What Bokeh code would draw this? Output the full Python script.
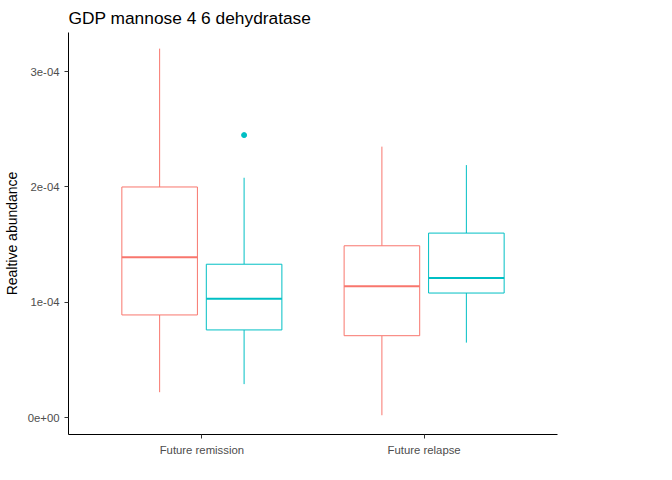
import numpy as np
from bokeh.plotting import figure
from bokeh.models import FixedTicker, Legend, LegendItem, Range1d
from bokeh.embed import file_html
from bokeh.resources import INLINE

# Data
groups = ['Future remission', 'Future relapse']
ages = ['Children', 'Adults']
colors = ['#F8766D', '#00BFC4']
lower = [[0.22e-4, 0.29e-4], [0.02e-4, 0.65e-4]]
q1 = [[0.89e-4, 0.76e-4], [0.71e-4, 1.08e-4]]
med = [[1.39e-4, 1.03e-4], [1.14e-4, 1.21e-4]]
q3 = [[2.00e-4, 1.33e-4], [1.49e-4, 1.60e-4]]
upper = [[3.20e-4, 2.08e-4], [2.35e-4, 2.19e-4]]
outlier_group = [0]
outlier_age = [1]
outlier_val = [2.45e-4]

p = figure(frame_width=489, frame_height=402, output_backend="svg", toolbar_location=None,
           title='GDP mannose 4 6 dehydratase', x_range=Range1d(0.4, 2.6),
           y_range=Range1d(-0.147e-4, 3.34e-4), min_border_left=60, min_border_top=10,
           min_border_bottom=30, min_border_right=107)

# Boxes
dodge = [-0.19, 0.19]
half = 0.17
items = []
for j in range(2):
	x = np.array([1, 2]) + dodge[j]
	lo = [lower[i][j] for i in range(2)]
	a = [q1[i][j] for i in range(2)]
	m = [med[i][j] for i in range(2)]
	b = [q3[i][j] for i in range(2)]
	hi = [upper[i][j] for i in range(2)]
	p.segment(x, b, x, hi, line_color=colors[j], line_width=1)
	p.segment(x, lo, x, a, line_color=colors[j], line_width=1)
	r = p.quad(left=x - half, right=x + half, bottom=a, top=b, fill_color='white',
	           line_color=colors[j], line_width=1)
	p.segment(x - half, m, x + half, m, line_color=colors[j], line_width=2)
	items.append(LegendItem(label=ages[j], renderers=[r]))

ox = [outlier_group[k] + 1 + dodge[outlier_age[k]] for k in range(len(outlier_val))]
p.scatter(ox, outlier_val, size=5, color=colors[1])

# Legend, placed beside the panel
legend = Legend(items=items, title='Age group', border_line_color=None,
                background_fill_alpha=0, location=(508, 150),
                label_text_font_size='9pt', title_text_font_size='10.5pt',
                title_text_color='black', label_text_color='black',
                glyph_width=17, glyph_height=17, margin=0, padding=4, spacing=4)
p.add_layout(legend, 'center')

# Tidy
p.grid.visible = False
p.outline_line_color = None
p.xaxis.ticker = FixedTicker(ticks=[1, 2])
p.xaxis.major_label_overrides = {1: groups[0], 2: groups[1]}
p.yaxis.ticker = FixedTicker(ticks=[0, 1e-4, 2e-4, 3e-4])
p.yaxis.major_label_overrides = {0: '0e+00', 1e-4: '1e-04', 2e-4: '2e-04', 3e-4: '3e-04'}
p.yaxis.axis_label = 'Realtive abundance'
p.yaxis.axis_label_text_font_style = 'normal'
p.yaxis.axis_label_text_font_size = '10.5pt'
p.yaxis.axis_label_text_color = 'black'
for ax in [p.xaxis, p.yaxis]:
	ax.axis_line_color = 'black'
	ax.major_tick_line_color = '#333333'
	ax.minor_tick_line_color = None
	ax.major_tick_out = 4
	ax.major_tick_in = 0
	ax.major_label_text_font_size = '8.5pt'
	ax.major_label_text_color = '#4d4d4d'
p.title.text_font_size = '13pt'
p.title.text_font_style = 'normal'
p.title.text_color = 'black'

open("out.html", "w").write(file_html(p, INLINE))
